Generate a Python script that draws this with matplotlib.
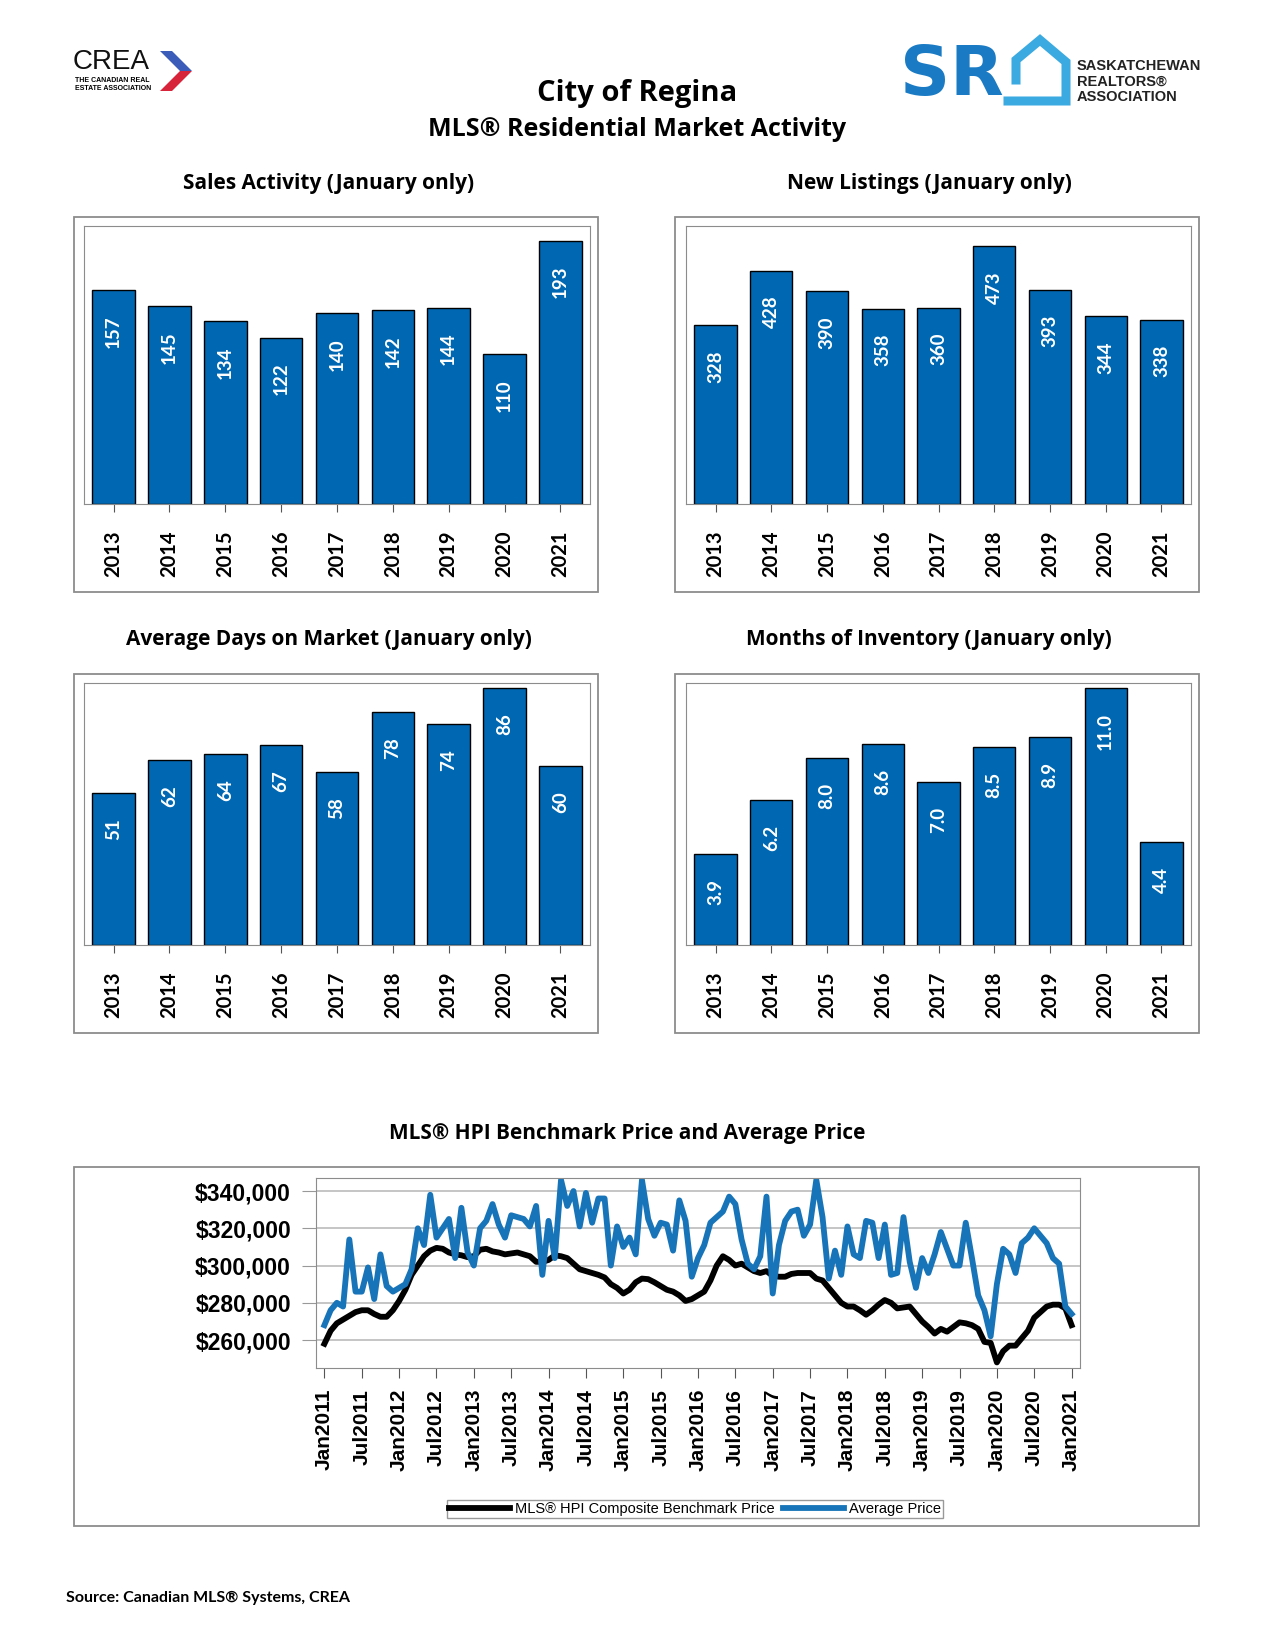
import matplotlib
matplotlib.use('Agg')
import matplotlib.pyplot as plt
from matplotlib.patches import Rectangle, Polygon
import numpy as np
import pandas as pd

W, H = 1275, 1650

years = ['2013', '2014', '2015', '2016', '2017', '2018', '2019', '2020', '2021']
sales = [157, 145, 134, 122, 140, 142, 144, 110, 193]
new_listings = [328, 428, 390, 358, 360, 473, 393, 344, 338]
days_on_market = [51, 62, 64, 67, 58, 78, 74, 86, 60]
months_inventory = [3.9, 6.2, 8.0, 8.6, 7.0, 8.5, 8.9, 11.0, 4.4]

# monthly, Jan 2011 .. Jan 2021 (in $ thousands)
months = pd.date_range('2011-01-01', '2021-01-01', freq='MS')
benchmark = [
    258, 265, 269, 271, 273, 275, 276, 276, 274, 272.5, 272.5, 276, 281,
    287, 295, 300, 305, 308, 309.5, 309, 307, 306, 305.5, 304.5, 305,
    308.5, 309, 307.6, 307, 306, 306.5, 307, 306, 305, 302, 302, 303,
    305.5, 305, 304, 301, 298, 297, 296, 295, 293.6, 290, 288, 285,
    287, 291, 293, 292.7, 291, 289, 287, 286, 284, 281, 282, 284,
    286, 292, 300, 305, 303, 300, 301, 299, 297, 296, 297, 294.5,
    294, 294, 295.5, 296, 296, 296, 293, 292, 288, 284, 280, 278,
    278, 276, 273.6, 276, 279, 281.5, 280, 277, 277.5, 278, 274, 270,
    267, 263.5, 266, 264.5, 267, 269.5, 269, 268, 266, 259, 258.5, 248,
    254, 257, 257, 261, 265, 272, 275, 278, 279, 279, 277, 268,
]
average = [
    268, 276, 280, 278, 314, 286, 286, 299, 282, 306, 289, 286, 288,
    290, 298, 320, 311, 338, 315, 320, 325, 304, 331, 307, 300,
    320, 324, 333, 322, 315, 327, 326, 325, 321, 332, 295, 324,
    304, 346, 332, 340, 321, 339, 323, 336, 336, 300, 321, 310,
    315, 306, 346, 325, 316, 323, 322, 308, 335, 324, 294, 304,
    311, 323, 326, 329, 337, 333, 314, 301, 298, 305, 337, 285,
    311, 324, 329, 330, 316, 322, 346, 326, 293, 308, 295, 321,
    306, 304, 324, 323, 304, 322, 295, 296, 326, 302, 288, 304,
    296, 306, 318, 309, 300, 300, 323, 304, 284, 276, 262, 290,
    309, 306, 296, 312, 315, 320, 316, 312, 304, 301, 278, 274,
]
price_ticks = [260000, 280000, 300000, 320000, 340000]

BAR_BLUE = '#0068b3'
LINE_BLUE = '#1874b8'
FRAME = '#8c8c8c'
TITLE_FONT = 'Open Sans'
BAR_FONT = 'Lato'
LINE_FONT = 'Liberation Sans'

fig = plt.figure(figsize=(W / 100, H / 100), dpi=100)

# overlay in pixel coordinates for boxes, titles and logos
lax = fig.add_axes([0, 0, 1, 1])
lax.set_xlim(0, W)
lax.set_ylim(H, 0)
lax.axis('off')


def px_axes(x0, y0, x1, y1):
    return fig.add_axes([x0 / W, 1 - y1 / H, (x1 - x0) / W, (y1 - y0) / H])


def box(x0, y0, x1, y1):
    lax.add_patch(Rectangle((x0, y0), x1 - x0, y1 - y0, fill=False,
                            ec=FRAME, lw=1.3))


def bar_panel(rect, outer, title, tx, ty, values, ymax, fmt):
    box(*outer)
    ax = px_axes(*rect)
    x = np.arange(len(years))
    ax.bar(x, values, width=0.76, color=BAR_BLUE, edgecolor='black', linewidth=1)
    ax.set_xlim(-0.53, len(years) - 0.47)
    ax.set_ylim(0, ymax)
    ax.set_yticks([])
    ax.set_xticks(x)
    ax.set_xticklabels(years, rotation=90, fontweight='bold', fontsize=14.5,
                       family=BAR_FONT)
    ax.tick_params(axis='x', length=6, pad=13, color='#555555')
    for sp in ax.spines.values():
        sp.set_color(FRAME)
    for xi, v in zip(x, values):
        ax.annotate(fmt.format(v), (xi, v), xytext=(0, -18),
                    textcoords='offset points', rotation=90, ha='center',
                    va='top', color='white', fontweight='bold', fontsize=13.5,
                    family=BAR_FONT)
    lax.text(tx, ty, title, ha='center', va='center', fontsize=15,
             fontweight='bold', family=TITLE_FONT)


# header
lax.text(637, 93, 'City of Regina', ha='center', va='center', fontsize=21,
         fontweight='bold', family=TITLE_FONT)
lax.text(637, 130, 'MLS® Residential Market Activity', ha='center',
         va='center', fontsize=18, fontweight='bold', family=TITLE_FONT)

# CREA logo
lax.text(73, 62, 'CREA', ha='left', va='center', fontsize=20,
         family='Liberation Sans', color='#111111')
lax.text(75, 81, 'THE CANADIAN REAL', ha='left', va='center', fontsize=5,
         fontweight='bold', family='Liberation Sans')
lax.text(75, 89, 'ESTATE ASSOCIATION', ha='left', va='center', fontsize=5,
         fontweight='bold', family='Liberation Sans')
lax.add_patch(Polygon([(160, 51), (172, 51), (192, 71), (180, 71)],
                      closed=True, fc='#3b5cb8', ec='none'))
lax.add_patch(Polygon([(180, 71), (192, 71), (172, 91), (160, 91)],
                      closed=True, fc='#d8243a', ec='none'))

# SRA logo
lax.text(900, 76, 'SR', ha='left', va='center', fontsize=50,
         fontweight='heavy', family='DejaVu Sans', color='#1a7bc4')
lax.plot([1008, 1066, 1066, 1040, 1016, 1016], [101, 101, 62, 40, 60, 80],
         color='#3aaae1', lw=6.5, solid_joinstyle='miter')
for i, line in enumerate(['SASKATCHEWAN', 'REALTORS®', 'ASSOCIATION']):
    lax.text(1077, 66 + i * 15.5, line, ha='left', va='center', fontsize=10.5,
             fontweight='bold', family='Liberation Sans', color='#222222')

# four bar panels
bar_panel((84, 226, 590, 504), (74, 217, 598, 592),
          'Sales Activity (January only)', 329, 183, sales, 204, '{:d}')
bar_panel((686, 226, 1191, 504), (675, 217, 1199, 592),
          'New Listings (January only)', 929, 183, new_listings, 510, '{:d}')
bar_panel((84, 683, 590, 945), (74, 674, 598, 1033),
          'Average Days on Market (January only)', 329, 640,
          days_on_market, 87.8, '{:d}')
bar_panel((686, 683, 1191, 945), (675, 674, 1199, 1033),
          'Months of Inventory (January only)', 929, 640,
          months_inventory, 11.23, '{:.1f}')

# price line chart
box(74, 1167, 1199, 1526)
lax.text(627, 1134, 'MLS® HPI Benchmark Price and Average Price',
         ha='center', va='center', fontsize=15, fontweight='bold',
         family=TITLE_FONT)
ax = px_axes(316, 1178, 1080, 1368)
idx = np.arange(len(months))
ax.plot(idx, np.array(benchmark) * 1000, color='black', lw=4.2,
        label='MLS® HPI Composite Benchmark Price')
ax.plot(idx, np.array(average) * 1000, color=LINE_BLUE, lw=4.2,
        label='Average Price')
ax.set_xlim(-1.35, len(months) - 1 + 1.35)
ax.set_ylim(245000, 347000)
ax.set_yticks(price_ticks)
ax.set_yticklabels(['${:,.0f}'.format(v) for v in price_ticks],
                   fontweight='bold', fontsize=16.5, family=LINE_FONT)
ax.set_xticks(idx[::6])
ax.set_xticklabels(months[::6].strftime('%b%Y'), rotation=90,
                   fontweight='bold', fontsize=15, family=LINE_FONT)
ax.tick_params(axis='y', length=10, color='#999999', pad=8)
ax.tick_params(axis='x', length=7, color='#555555', pad=8)
ax.grid(axis='y', color='#b5b5b5', lw=1.1)
ax.set_axisbelow(True)
for sp in ax.spines.values():
    sp.set_color(FRAME)
leg = ax.legend(loc='center', bbox_to_anchor=(695 / W, 1 - 1509 / H),
                bbox_transform=fig.transFigure, ncol=2, frameon=True,
                fancybox=False, edgecolor='#999999', framealpha=1,
                prop={'family': LINE_FONT, 'size': 10.5}, handlelength=4.2,
                columnspacing=0.6, handletextpad=0.3, borderpad=0.15,
                borderaxespad=0)
leg.get_frame().set_linewidth(1)

lax.text(66, 1598, 'Source: Canadian MLS® Systems, CREA', ha='left',
         va='center', fontsize=11.5, fontweight='bold', family='Lato')

fig.savefig('out.png', dpi=100, facecolor='white')
